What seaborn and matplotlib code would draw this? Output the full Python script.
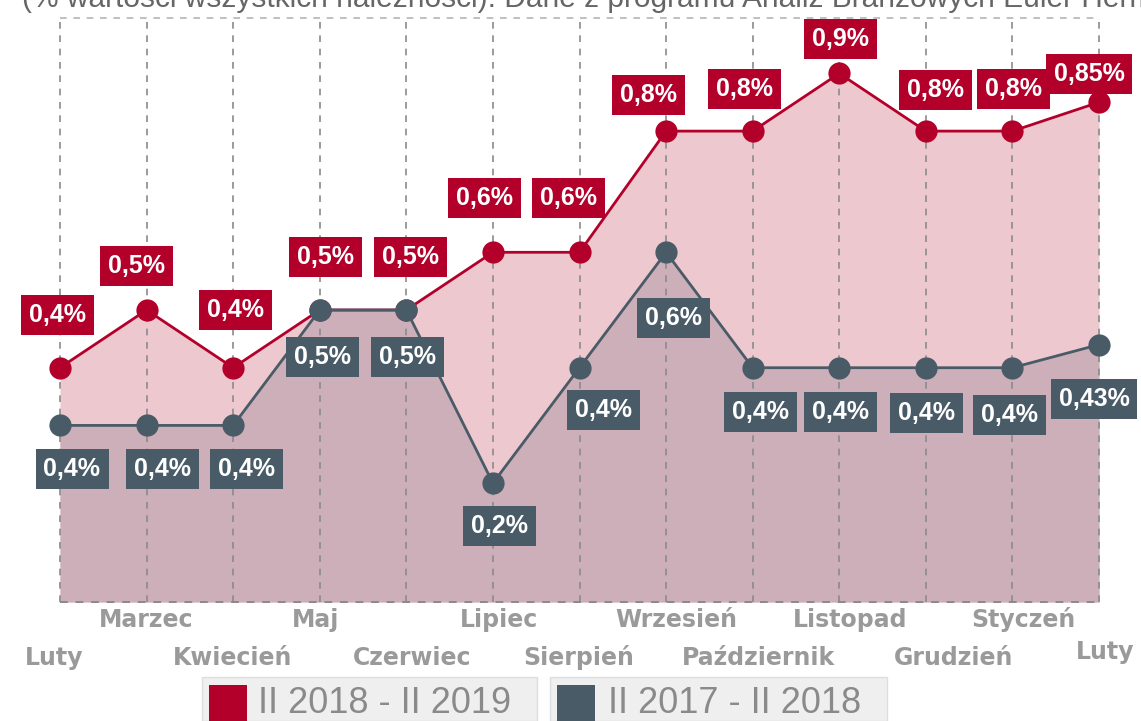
import matplotlib
matplotlib.use("Agg")
import matplotlib.pyplot as plt
import seaborn as sns
import pandas as pd
from matplotlib.patches import Rectangle
from matplotlib import font_manager

# ---------------- data ----------------
months = ["Luty", "Marzec", "Kwiecień", "Maj", "Czerwiec", "Lipiec", "Sierpień",
          "Wrzesień", "Październik", "Listopad", "Grudzień", "Styczeń", "Luty"]
series_names = ["II 2018 - II 2019", "II 2017 - II 2018"]
values_2019 = [0.40, 0.50, 0.40, 0.50, 0.50, 0.60, 0.60, 0.81, 0.81, 0.91, 0.81, 0.81, 0.86]
values_2018 = [0.30, 0.30, 0.30, 0.50, 0.50, 0.20, 0.40, 0.60, 0.40, 0.40, 0.40, 0.40, 0.44]
labels_2019 = ["0,4%", "0,5%", "0,4%", "0,5%", "0,5%", "0,6%", "0,6%", "0,8%", "0,8%",
               "0,9%", "0,8%", "0,8%", "0,85%"]
labels_2018 = ["0,4%", "0,4%", "0,4%", "0,5%", "0,5%", "0,2%", "0,4%", "0,6%", "0,4%",
               "0,4%", "0,4%", "0,4%", "0,43%"]
title = "(% wartości wszystkich należności). Dane z programu Analiz Branżowych Euler Hermes"

# ---------------- style / placement ----------------
RED = "#b3002b"
GRAY = "#4a5b68"
PINK_FILL = "#edc8cf"
MAUVE_FILL = "#ccafb8"
TXT_GRAY = "#9a9a9a"

red_lbl_off = [(-3, 53), (-10, 44), (2, 58), (6, 53), (4, 53), (-8, 54), (-11, 54),
               (-18, 36), (-8, 42), (1, 34), (10, 41), (1, 42), (-10, 28)]
gray_lbl_off = [(12, -44), (16, -44), (13, -44), (3, -47), (1, -47), (7, -43), (24, -42),
                (7, -66), (8, -44), (1, -44), (1, -45), (-3, -47), (-5, -54)]
xlab_dx = [-6, 0, -1, -4, 6, 6, -1, 10, 6, 11, 28, 11, 6]
xlab_dy = [-56, -18, -56, -18, -56, -18, -56, -18, -56, -18, -56, -18, -50]


def pick(*names):
    avail = {f.name for f in font_manager.fontManager.ttflist}
    for n in names:
        if n in avail:
            return n
    return "DejaVu Sans"


ARIAL = pick("Liberation Sans", "DejaVu Sans")

sns.set_style("white")
plt.rcParams["font.family"] = ["DejaVu Sans"]

W, H = 1141, 721
fig = plt.figure(figsize=(W / 100, H / 100), dpi=100)
left_px, right_px, top_px, bot_px = 60, 1099, 18, 602
ax = fig.add_axes([left_px / W, 1 - bot_px / H, (right_px - left_px) / W, (bot_px - top_px) / H])
ymin, ymax = -0.006, 1.006

idx = list(range(len(months)))
df = pd.DataFrame({
    "idx": idx * 2,
    "value": values_2019 + values_2018,
    "series": [series_names[0]] * len(idx) + [series_names[1]] * len(idx),
})

# fills
ax.fill_between(idx, values_2019, ymin, color=PINK_FILL, lw=0, zorder=1)
ax.fill_between(idx, values_2018, ymin, color=MAUVE_FILL, lw=0, zorder=1.1)

# grid (dashed verticals) and borders
for i in idx:
    ax.plot([i, i], [ymin, ymax], color="#8a8a8a", lw=1.2, ls=(0, (4, 4)), zorder=2,
            clip_on=False)
ax.plot([0, 12], [ymax, ymax], color="#b5b5b5", lw=1.2, ls=(0, (4, 4)), zorder=2, clip_on=False)
ax.plot([0, 12], [ymin, ymin], color="#8a8a8a", lw=1.4, ls=(0, (4, 4)), zorder=2, clip_on=False)

# lines with markers
sns.lineplot(data=df, x="idx", y="value", hue="series", hue_order=series_names,
             palette={series_names[0]: RED, series_names[1]: GRAY},
             marker="o", markersize=16, markeredgewidth=0, linewidth=2.0,
             legend=False, errorbar=None, sort=False, ax=ax, zorder=3)
for ln in ax.lines:
    ln.set_clip_on(False)

ax.set_xlim(0, 12)
ax.set_ylim(ymin, ymax)
ax.set_xticks([])
ax.set_yticks([])
ax.set_xlabel("")
ax.set_ylabel("")
for s in ax.spines.values():
    s.set_visible(False)
ax.patch.set_alpha(0)

# data labels
for i, (v, t) in enumerate(zip(values_2019, labels_2019)):
    dx, dy = red_lbl_off[i]
    ax.annotate(t, (i, v), xytext=(dx, dy), textcoords="offset pixels",
                ha="center", va="center", color="white", fontsize=18, fontweight="bold",
                family=ARIAL, zorder=6,
                bbox=dict(boxstyle="square,pad=0.32", fc=RED, ec="none"))
for i, (v, t) in enumerate(zip(values_2018, labels_2018)):
    dx, dy = gray_lbl_off[i]
    ax.annotate(t, (i, v), xytext=(dx, dy), textcoords="offset pixels",
                ha="center", va="center", color="white", fontsize=18, fontweight="bold",
                family=ARIAL, zorder=6,
                bbox=dict(boxstyle="square,pad=0.32", fc=GRAY, ec="none"))

# x labels (two staggered rows)
for i, m in enumerate(months):
    ax.annotate(m, (i, ymin), xytext=(xlab_dx[i], xlab_dy[i]), textcoords="offset pixels",
                ha="center", va="center", color=TXT_GRAY, fontsize=17, fontweight="bold",
                family="DejaVu Sans", annotation_clip=False)

# title (cut at the top edge as in the reference)
fig.text(22 / W, 1 - 7 / H, title, fontsize=21.5, color="#666666", family=ARIAL,
         ha="left", va="baseline")

# legend boxes
legend_boxes = [(202, 537, 209, 258, RED), (550, 887, 557, 608, GRAY)]
for (bx0, bx1, sq0, tx, col), name in zip(legend_boxes, series_names):
    fig.add_artist(Rectangle((bx0 / W, 0), (bx1 - bx0) / W, (H - 677) / H,
                             transform=fig.transFigure, fc="#efefef", ec="#dddddd", lw=1))
    fig.add_artist(Rectangle((sq0 / W, -2 / H), 38 / W, (H - 685 + 2) / H,
                             transform=fig.transFigure, fc=col, ec="none"))
    fig.text(tx / W, (H - 713) / H, name, fontsize=26, family=ARIAL, color="#8a8a8a",
             ha="left", va="baseline")

fig.savefig("out.png", dpi=100)
